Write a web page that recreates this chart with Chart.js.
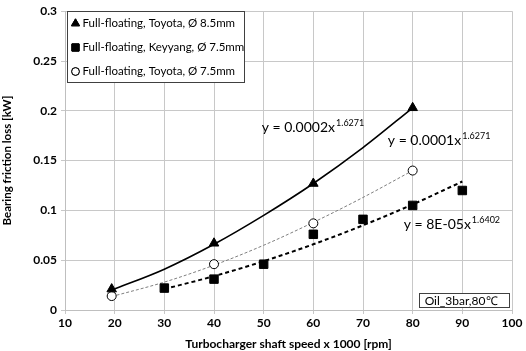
<!DOCTYPE html>
<html lang="en">
<head>
    <meta charset="UTF-8">
    <title>Bearing friction loss</title>
    <style>
        body { margin: 0; background: #fff; }
        #wrap { width: 526px; height: 351px; }
    </style>
</head>
<body>
    <div id="wrap"><canvas id="myCanvas" width="526" height="351"></canvas></div>
    <script src="https://cdn.jsdelivr.net/npm/chart.js@4.4.1/dist/chart.umd.min.js"></script>
    <script>
        // measured points
        const labels = ['Full-floating, Toyota, Ø 8.5mm', 'Full-floating, Keyyang, Ø 7.5mm', 'Full-floating, Toyota, Ø 7.5mm'];
        const toyota85X = [19.4, 40, 60, 80];
        const toyota85Y = [0.021, 0.067, 0.127, 0.203];
        const keyyangX = [30, 40, 50, 60, 70, 80, 90];
        const keyyangY = [0.022, 0.031, 0.046, 0.076, 0.091, 0.105, 0.120];
        const toyota75X = [19.4, 40, 60, 80];
        const toyota75Y = [0.014, 0.046, 0.087, 0.140];

        // trendlines
        const trend85X = [19.4, 30, 40, 50, 60, 70, 80];
        const trend85Y = [0.020, 0.041, 0.066, 0.095, 0.127, 0.163, 0.203];
        const trend75X = [19.4, 30, 40, 50, 60, 70, 80];
        const trend75Y = [0.0135, 0.028, 0.045, 0.065, 0.088, 0.113, 0.140];
        const trendKX = [30, 40, 50, 60, 70, 80, 90];
        const trendKY = [0.021, 0.034, 0.049, 0.066, 0.085, 0.106, 0.129];

        const eqTexts = [['y = 0.0002x', '1.6271'], ['y = 0.0001x', '1.6271'], ['y = 8E-05x', '1.6402']];
        const eqPos = [[49.6, 0.179], [75.0, 0.166], [78.2, 0.081]];
        const noteText = 'Oil_3bar,80℃';

        const pts = (xs, ys) => xs.map((x, i) => ({ x: x, y: ys[i] }));
        const FONT = 'Lato, "Open Sans", sans-serif';

        const overlay = {
            id: 'overlay',
            afterDraw(chart) {
                const c = chart.ctx;
                const xs = chart.scales.x, ys = chart.scales.y;
                c.save();
                // equations
                c.fillStyle = '#000';
                c.textBaseline = 'alphabetic';
                eqTexts.forEach((t, i) => {
                    const px = xs.getPixelForValue(eqPos[i][0]);
                    const py = ys.getPixelForValue(eqPos[i][1]);
                    c.font = '14px ' + FONT;
                    c.fillText(t[0], px, py);
                    const w = c.measureText(t[0]).width;
                    c.font = '9px ' + FONT;
                    c.fillText(t[1], px + w + 1, py - 6);
                });
                // note box
                const bx1 = xs.getPixelForValue(81.2), bx2 = xs.getPixelForValue(99.3);
                const by1 = ys.getPixelForValue(0.017), by2 = ys.getPixelForValue(0.003);
                c.fillStyle = '#fff';
                c.fillRect(bx1, by1, bx2 - bx1, by2 - by1);
                c.strokeStyle = '#404040';
                c.lineWidth = 1;
                c.strokeRect(Math.round(bx1) + 0.5, Math.round(by1) + 0.5, Math.round(bx2 - bx1), Math.round(by2 - by1));
                c.fillStyle = '#000';
                c.font = '12px ' + FONT;
                c.textBaseline = 'middle';
                c.fillText(noteText, bx1 + 6, (by1 + by2) / 2 + 1);
                // legend box
                const lx = 67.5, ly = 11.5, lw = 177, lh = 71;
                c.fillStyle = '#fff';
                c.fillRect(lx, ly, lw, lh);
                c.strokeStyle = '#404040';
                c.strokeRect(lx, ly, lw, lh);
                c.font = '11.5px ' + FONT;
                c.textBaseline = 'middle';
                for (let i = 0; i < 3; i++) {
                    const ds = chart.data.datasets[i];
                    const cy = ly + 12 + i * 24;
                    Chart.helpers.drawPoint(c, {
                        pointStyle: ds.pointStyle, radius: ds.pointRadius * 0.85, borderWidth: 1
                    }, lx + 8, cy);
                    c.fillStyle = ds.pointBackgroundColor;
                    c.strokeStyle = '#000';
                    c.fill();
                    c.stroke();
                    c.fillStyle = '#000';
                    c.fillText(labels[i], lx + 15, cy);
                }
                c.restore();
            }
        };

        const markerBase = { showLine: false, borderColor: '#000', pointBorderColor: '#000', pointBorderWidth: 1 };
        const trendBase = { showLine: true, pointRadius: 0, pointHoverRadius: 0, fill: false, tension: 0.4, cubicInterpolationMode: 'monotone' };

        const ctx = document.getElementById('myCanvas').getContext('2d');
        new Chart(ctx, {
            type: 'scatter',
            data: {
                datasets: [
                    Object.assign({ label: labels[0], data: pts(toyota85X, toyota85Y), pointStyle: 'triangle', pointRadius: 5.5, pointBackgroundColor: '#000' }, markerBase),
                    Object.assign({ label: labels[1], data: pts(keyyangX, keyyangY), pointStyle: 'rect', pointRadius: 6, pointBackgroundColor: '#000' }, markerBase),
                    Object.assign({ label: labels[2], data: pts(toyota75X, toyota75Y), pointStyle: 'circle', pointRadius: 4.5, pointBackgroundColor: '#fff' }, markerBase),
                    Object.assign({ label: 'trend 8.5', data: pts(trend85X, trend85Y), borderColor: '#000', borderWidth: 1.6 }, trendBase),
                    Object.assign({ label: 'trend Keyyang', data: pts(trendKX, trendKY), borderColor: '#000', borderWidth: 2, borderDash: [4, 3] }, trendBase),
                    Object.assign({ label: 'trend 7.5', data: pts(trend75X, trend75Y), borderColor: '#7f7f7f', borderWidth: 1, borderDash: [3, 2] }, trendBase)
                ]
            },
            options: {
                responsive: false,
                animation: false,
                layout: { padding: { top: 10, right: 14, left: 0, bottom: 0 } },
                plugins: { legend: { display: false }, tooltip: { enabled: false } },
                scales: {
                    x: {
                        type: 'linear', min: 10, max: 100,
                        ticks: { stepSize: 10, color: '#000', font: { family: FONT, size: 12, weight: 'bold' }, padding: 2 },
                        grid: { color: '#c8c8c8', tickLength: 4 },
                        border: { color: '#bfbfbf' },
                        title: { display: true, text: 'Turbocharger shaft speed x 1000 [rpm]', color: '#000', font: { family: FONT, size: 12, weight: 'bold' }, padding: { top: 0, bottom: 0 } },
                        afterFit(s) { s.height = 41; }
                    },
                    y: {
                        min: 0, max: 0.3,
                        ticks: { stepSize: 0.05, color: '#000', font: { family: FONT, size: 12, weight: 'bold' }, padding: 4,
                            callback: v => String(+v.toFixed(2)) },
                        grid: { color: '#c8c8c8', tickLength: 4 },
                        border: { color: '#bfbfbf' },
                        title: { display: true, text: 'Bearing friction loss [kW]', color: '#000', font: { family: FONT, size: 11.5, weight: 'bold' }, padding: { top: 0, bottom: 2 } },
                        afterFit(s) { s.width = 65; }
                    }
                }
            },
            plugins: [overlay]
        });
    </script>
</body>
</html>
